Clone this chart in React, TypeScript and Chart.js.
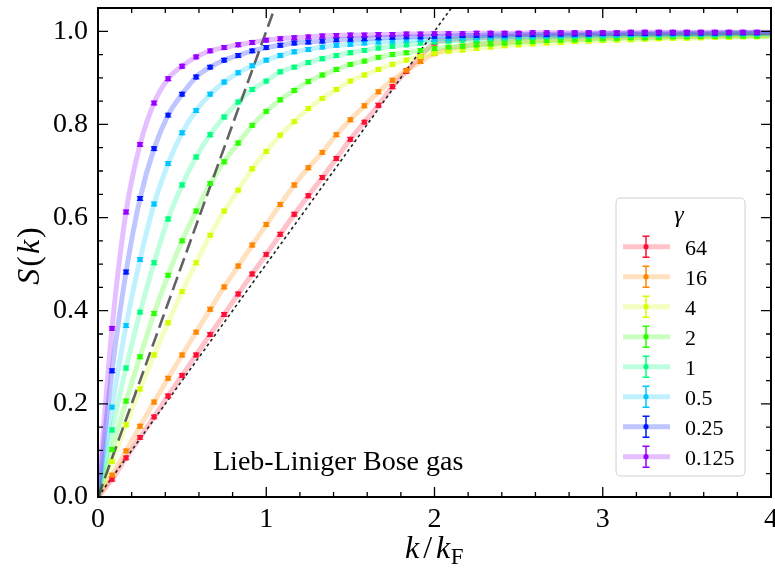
import React, { useEffect, useRef } from "react";
import { Chart, registerables } from "chart.js";

Chart.register(...registerables);

// k / k_F grid of the data points
const K = [
  0.0833, 0.1667, 0.25, 0.3333, 0.4167, 0.5, 0.5833, 0.6667, 0.75, 0.8333,
  0.9167, 1.0, 1.0833, 1.1667, 1.25, 1.3333, 1.4167, 1.5, 1.5833, 1.6667,
  1.75, 1.8333, 1.9167, 2.0, 2.0833, 2.1667, 2.25, 2.3333, 2.4167, 2.5,
  2.5833, 2.6667, 2.75, 2.8333, 2.9167, 3.0, 3.0833, 3.1667, 3.25, 3.3333,
  3.4167, 3.5, 3.5833, 3.6667, 3.75, 3.8333, 3.9167,
];

const GAMMA_LABELS = ["64", "16", "4", "2", "1", "0.5", "0.25", "0.125"];
const COLORS = ["#ff0f35", "#ff8700", "#d2ff00", "#2cff00", "#00ff80", "#00c6ff", "#0018ff", "#9800ff"];

const S_64 = [0.038, 0.084, 0.128, 0.172, 0.217, 0.261, 0.305, 0.349, 0.392, 0.436, 0.479, 0.521, 0.564, 0.607, 0.647, 0.686, 0.727, 0.768, 0.805, 0.841, 0.881, 0.914, 0.946, 0.975, 0.981, 0.984, 0.986, 0.987, 0.988, 0.989, 0.990, 0.990, 0.991, 0.991, 0.992, 0.992, 0.992, 0.993, 0.993, 0.993, 0.993, 0.994, 0.994, 0.994, 0.994, 0.995, 0.995];
const S_16 = [0.047, 0.099, 0.152, 0.204, 0.255, 0.305, 0.354, 0.403, 0.451, 0.496, 0.541, 0.585, 0.628, 0.670, 0.707, 0.740, 0.778, 0.810, 0.840, 0.870, 0.895, 0.916, 0.935, 0.952, 0.962, 0.968, 0.972, 0.975, 0.977, 0.979, 0.981, 0.982, 0.983, 0.984, 0.985, 0.986, 0.987, 0.987, 0.988, 0.988, 0.989, 0.989, 0.990, 0.990, 0.990, 0.991, 0.991];
const S_4 = [0.076, 0.155, 0.232, 0.305, 0.374, 0.441, 0.503, 0.562, 0.614, 0.659, 0.705, 0.742, 0.777, 0.806, 0.834, 0.856, 0.875, 0.893, 0.906, 0.918, 0.929, 0.938, 0.946, 0.953, 0.957, 0.960, 0.963, 0.966, 0.969, 0.971, 0.973, 0.975, 0.976, 0.978, 0.979, 0.980, 0.981, 0.982, 0.983, 0.984, 0.985, 0.985, 0.986, 0.987, 0.987, 0.988, 0.988];
const S_2 = [0.102, 0.206, 0.301, 0.394, 0.476, 0.550, 0.614, 0.673, 0.720, 0.760, 0.798, 0.828, 0.853, 0.873, 0.892, 0.906, 0.918, 0.929, 0.936, 0.944, 0.950, 0.954, 0.959, 0.963, 0.966, 0.968, 0.971, 0.973, 0.975, 0.977, 0.978, 0.980, 0.981, 0.982, 0.983, 0.984, 0.985, 0.986, 0.986, 0.987, 0.988, 0.988, 0.989, 0.989, 0.990, 0.990, 0.990];
const S_1 = [0.144, 0.277, 0.397, 0.503, 0.597, 0.670, 0.730, 0.778, 0.816, 0.848, 0.875, 0.893, 0.913, 0.923, 0.933, 0.941, 0.948, 0.954, 0.959, 0.964, 0.968, 0.971, 0.975, 0.977, 0.979, 0.981, 0.982, 0.984, 0.985, 0.986, 0.987, 0.988, 0.988, 0.989, 0.990, 0.990, 0.991, 0.991, 0.992, 0.992, 0.992, 0.993, 0.993, 0.993, 0.994, 0.994, 0.994];
const S_05 = [0.193, 0.368, 0.510, 0.629, 0.716, 0.782, 0.830, 0.865, 0.891, 0.911, 0.926, 0.938, 0.948, 0.956, 0.961, 0.966, 0.970, 0.972, 0.975, 0.977, 0.979, 0.981, 0.982, 0.983, 0.984, 0.986, 0.987, 0.988, 0.988, 0.989, 0.990, 0.990, 0.991, 0.991, 0.992, 0.992, 0.992, 0.993, 0.993, 0.993, 0.994, 0.994, 0.994, 0.994, 0.995, 0.995, 0.995];
const S_025 = [0.271, 0.483, 0.641, 0.748, 0.820, 0.865, 0.902, 0.923, 0.938, 0.948, 0.958, 0.965, 0.970, 0.975, 0.977, 0.979, 0.982, 0.983, 0.984, 0.986, 0.987, 0.988, 0.988, 0.989, 0.990, 0.991, 0.991, 0.992, 0.992, 0.993, 0.993, 0.993, 0.994, 0.994, 0.994, 0.995, 0.995, 0.995, 0.995, 0.996, 0.996, 0.996, 0.996, 0.996, 0.997, 0.997, 0.997];
const S_0125 = [0.362, 0.612, 0.757, 0.846, 0.898, 0.925, 0.945, 0.958, 0.965, 0.971, 0.976, 0.981, 0.984, 0.986, 0.988, 0.990, 0.991, 0.992, 0.992, 0.993, 0.993, 0.994, 0.994, 0.995, 0.995, 0.995, 0.996, 0.996, 0.996, 0.996, 0.997, 0.997, 0.997, 0.997, 0.997, 0.997, 0.997, 0.998, 0.998, 0.998, 0.998, 0.998, 0.998, 0.998, 0.998, 0.998, 0.998];

const SERIES = [S_64, S_16, S_4, S_2, S_1, S_05, S_025, S_0125];
// value of each smooth curve at the right edge (k = 4)
const CURVE_END = [0.995, 0.991, 0.988, 0.990, 0.994, 0.995, 0.997, 0.998];
const ERROR = 0.004;

// reference lines
const DASHED_X = [0, 1.1];
const DASHED_Y = [0, 1.1];
const DOTTED_X = [0, 2.2];
const DOTTED_Y = [0, 1.1];

const X_TICKS = [0, 1, 2, 3, 4];
const Y_TICKS = [0, 0.2, 0.4, 0.6, 0.8, 1.0];
const X_RANGE = [0, 4];
const Y_RANGE = [0, 1.05];
const ANNOTATION = "Lieb-Liniger Bose gas";

const SERIF = '"Liberation Serif", "Times New Roman", serif';

function hexA(hex: string, a: number) {
  const r = parseInt(hex.slice(1, 3), 16);
  const g = parseInt(hex.slice(3, 5), 16);
  const b = parseInt(hex.slice(5, 7), 16);
  return `rgba(${r},${g},${b},${a})`;
}

type Part = { t: string; f: string; dy: number; gap?: number };
function drawParts(ctx: CanvasRenderingContext2D, parts: Part[], cx: number, baseline: number) {
  let total = 0;
  for (const p of parts) {
    ctx.font = p.f;
    total += ctx.measureText(p.t).width + 2 * (p.gap || 0);
  }
  let x = cx - total / 2;
  ctx.textAlign = "left";
  ctx.textBaseline = "alphabetic";
  for (const p of parts) {
    ctx.font = p.f;
    x += p.gap || 0;
    ctx.fillText(p.t, x, baseline + p.dy);
    x += ctx.measureText(p.t).width + (p.gap || 0);
  }
}

const overlayPlugin = {
  id: "overlay",
  afterDatasetDraw(chart: any, args: any) {
    const ds = chart.data.datasets[args.index];
    if (ds.seriesIndex === undefined) return;
    const ctx = chart.ctx as CanvasRenderingContext2D;
    const xs = chart.scales.x;
    const ys = chart.scales.y;
    const a = chart.chartArea;
    ctx.save();
    ctx.beginPath();
    ctx.rect(a.left, a.top, a.right - a.left, a.bottom - a.top);
    ctx.clip();
    ctx.strokeStyle = COLORS[ds.seriesIndex];
    ctx.lineWidth = 1.2;
    const vals = SERIES[ds.seriesIndex];
    for (let i = 0; i < K.length; i++) {
      const px = xs.getPixelForValue(K[i]);
      const y1 = ys.getPixelForValue(vals[i] - ERROR);
      const y2 = ys.getPixelForValue(vals[i] + ERROR);
      ctx.beginPath();
      ctx.moveTo(px, y1);
      ctx.lineTo(px, y2);
      ctx.moveTo(px - 3.2, y1);
      ctx.lineTo(px + 3.2, y1);
      ctx.moveTo(px - 3.2, y2);
      ctx.lineTo(px + 3.2, y2);
      ctx.stroke();
    }
    ctx.restore();
  },
  afterDraw(chart: any) {
    const ctx = chart.ctx as CanvasRenderingContext2D;
    const xs = chart.scales.x;
    const ys = chart.scales.y;
    const a = chart.chartArea;
    ctx.save();

    // frame
    ctx.strokeStyle = "#000";
    ctx.lineWidth = 2;
    ctx.strokeRect(a.left, a.top, a.right - a.left, a.bottom - a.top);

    // ticks (inward, all four sides)
    ctx.lineWidth = 1.3;
    const tick = (len: number, xv: number | null, yv: number | null) => {
      ctx.beginPath();
      if (xv !== null) {
        const px = xs.getPixelForValue(xv);
        ctx.moveTo(px, a.bottom);
        ctx.lineTo(px, a.bottom - len);
        ctx.moveTo(px, a.top);
        ctx.lineTo(px, a.top + len);
      } else if (yv !== null) {
        const py = ys.getPixelForValue(yv);
        ctx.moveTo(a.left, py);
        ctx.lineTo(a.left + len, py);
        ctx.moveTo(a.right, py);
        ctx.lineTo(a.right - len, py);
      }
      ctx.stroke();
    };
    for (let v = X_RANGE[0]; v <= X_RANGE[1] + 1e-9; v += 0.2) {
      const major = Math.abs(v - Math.round(v)) < 1e-6;
      tick(major ? 10 : 5, v, null);
    }
    for (let v = Y_RANGE[0]; v <= Y_RANGE[1] + 1e-9; v += 0.05) {
      const major = Math.abs(v * 5 - Math.round(v * 5)) < 1e-6;
      tick(major ? 10 : 5, null, v);
    }

    // annotation
    ctx.fillStyle = "#000";
    ctx.font = `28px ${SERIF}`;
    ctx.textAlign = "left";
    ctx.textBaseline = "alphabetic";
    ctx.fillText(ANNOTATION, 213, 470);

    // x title  k/k_F
    const it = `italic 32px ${SERIF}`;
    const rm = `32px ${SERIF}`;
    drawParts(
      ctx,
      [
        { t: "k", f: it, dy: 0 },
        { t: "/", f: rm, dy: 0, gap: 4 },
        { t: "k", f: it, dy: 0 },
        { t: "F", f: `23px ${SERIF}`, dy: 6, gap: 0.5 },
      ],
      (a.left + a.right) / 2,
      558
    );

    // y title S(k)
    ctx.save();
    ctx.translate(39, 256);
    ctx.rotate(-Math.PI / 2);
    drawParts(
      ctx,
      [
        { t: "S", f: it, dy: 0, gap: 1 },
        { t: "(", f: rm, dy: 0, gap: 1 },
        { t: "k", f: it, dy: 0, gap: 1 },
        { t: ")", f: rm, dy: 0, gap: 1 },
      ],
      0,
      0
    );
    ctx.restore();

    // legend
    const bx = 616, by = 198, bw = 129, bh = 278, r = 5;
    ctx.beginPath();
    ctx.moveTo(bx + r, by);
    ctx.lineTo(bx + bw - r, by);
    ctx.quadraticCurveTo(bx + bw, by, bx + bw, by + r);
    ctx.lineTo(bx + bw, by + bh - r);
    ctx.quadraticCurveTo(bx + bw, by + bh, bx + bw - r, by + bh);
    ctx.lineTo(bx + r, by + bh);
    ctx.quadraticCurveTo(bx, by + bh, bx, by + bh - r);
    ctx.lineTo(bx, by + r);
    ctx.quadraticCurveTo(bx, by, bx + r, by);
    ctx.closePath();
    ctx.fillStyle = "rgba(255,255,255,0.85)";
    ctx.fill();
    ctx.strokeStyle = "#d0d0d0";
    ctx.lineWidth = 1;
    ctx.stroke();

    ctx.fillStyle = "#000";
    ctx.font = `italic 24px ${SERIF}`;
    ctx.textAlign = "center";
    ctx.textBaseline = "alphabetic";
    ctx.fillText("\u03b3", 679, 222);

    for (let i = 0; i < GAMMA_LABELS.length; i++) {
      const cy = 246.7 + i * 30;
      const col = COLORS[i];
      ctx.strokeStyle = hexA(col, 0.25);
      ctx.lineWidth = 5;
      ctx.beginPath();
      ctx.moveTo(623, cy);
      ctx.lineTo(670, cy);
      ctx.stroke();
      ctx.strokeStyle = col;
      ctx.lineWidth = 1.5;
      ctx.beginPath();
      ctx.moveTo(646, cy - 10.5);
      ctx.lineTo(646, cy + 10.5);
      ctx.moveTo(642.5, cy - 10.5);
      ctx.lineTo(649.5, cy - 10.5);
      ctx.moveTo(642.5, cy + 10.5);
      ctx.lineTo(649.5, cy + 10.5);
      ctx.stroke();
      ctx.fillStyle = col;
      ctx.beginPath();
      ctx.arc(646, cy, 2.6, 0, Math.PI * 2);
      ctx.fill();
      ctx.fillStyle = "#000";
      ctx.font = `22px ${SERIF}`;
      ctx.textAlign = "left";
      ctx.fillText(GAMMA_LABELS[i], 685, cy + 8);
    }
    ctx.restore();
  },
};

export default function App() {
  const canvasRef = useRef<HTMLCanvasElement | null>(null);

  useEffect(() => {
    const canvas = canvasRef.current;
    if (!canvas) return;

    const pointSets: any[] = [];
    for (let s = SERIES.length - 1; s >= 0; s--) {
      pointSets.push({
        label: GAMMA_LABELS[s],
        seriesIndex: s,
        data: K.map((k, i) => ({ x: k, y: SERIES[s][i] })),
        showLine: false,
        pointRadius: 2.6,
        pointBorderWidth: 0,
        pointBackgroundColor: COLORS[s],
        pointHoverRadius: 0,
      });
    }
    const refSets: any[] = [
      {
        label: "dashed",
        data: DASHED_X.map((x, i) => ({ x, y: DASHED_Y[i] })),
        showLine: true,
        borderColor: "rgba(70,70,70,0.85)",
        borderWidth: 2.6,
        borderDash: [14, 6],
        pointRadius: 0,
      },
      {
        label: "dotted",
        data: DOTTED_X.map((x, i) => ({ x, y: DOTTED_Y[i] })),
        showLine: true,
        borderColor: "#222",
        borderWidth: 1.6,
        borderDash: [3, 3],
        pointRadius: 0,
      },
    ];
    const curveSets: any[] = [];
    for (let s = SERIES.length - 1; s >= 0; s--) {
      curveSets.push({
        label: "curve " + GAMMA_LABELS[s],
        data: [{ x: 0, y: 0 }, ...K.map((k, i) => ({ x: k, y: SERIES[s][i] })), { x: X_RANGE[1], y: CURVE_END[s] }],
        showLine: true,
        borderColor: hexA(COLORS[s], 0.25),
        borderWidth: 5,
        cubicInterpolationMode: "monotone",
        pointRadius: 0,
      });
    }

    const tickFont = { family: SERIF, size: 28 };
    const chart = new Chart(canvas, {
      type: "scatter",
      data: { datasets: [...pointSets, ...refSets, ...curveSets] },
      options: {
        animation: false,
        responsive: false,
        maintainAspectRatio: false,
        events: [],
        layout: { padding: { left: 0, right: 4, top: 8, bottom: 0 } },
        plugins: { legend: { display: false }, tooltip: { enabled: false } },
        scales: {
          x: {
            type: "linear",
            min: X_RANGE[0],
            max: X_RANGE[1],
            grid: { display: false, drawTicks: false },
            border: { display: false },
            ticks: {
              font: tickFont,
              color: "#000",
              padding: 6,
              maxRotation: 0,
              callback: (v: any) => String(v),
            },
            afterBuildTicks: (s: any) => {
              s.ticks = X_TICKS.map((v) => ({ value: v }));
            },
            afterFit: (s: any) => {
              s.height = 79;
              s.paddingLeft = 0;
              s.paddingRight = 0;
            },
          },
          y: {
            type: "linear",
            min: Y_RANGE[0],
            max: Y_RANGE[1],
            grid: { display: false, drawTicks: false },
            border: { display: false },
            ticks: {
              font: tickFont,
              color: "#000",
              padding: 10,
              callback: (v: any) => Number(v).toFixed(1),
            },
            afterBuildTicks: (s: any) => {
              s.ticks = Y_TICKS.map((v) => ({ value: v }));
            },
            afterFit: (s: any) => {
              s.width = 98;
              s.paddingTop = 0;
              s.paddingBottom = 0;
            },
          },
        },
      } as any,
      plugins: [overlayPlugin as any],
    });
    return () => chart.destroy();
  }, []);

  return (
    <div style={{ position: "fixed", left: 0, top: 0, width: 775, height: 576, background: "#fff" }}>
      <canvas ref={canvasRef} width={775} height={576} style={{ width: 775, height: 576, display: "block" }} />
    </div>
  );
}
